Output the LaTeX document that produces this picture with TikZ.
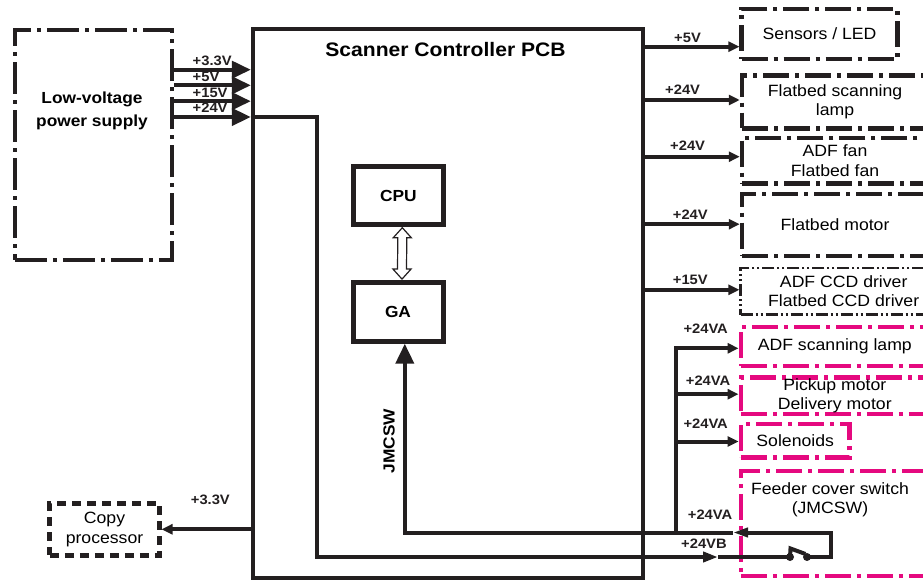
\documentclass[tikz,border=0pt]{standalone}
\usepackage{fontspec}
\setmainfont{Liberation Sans}[FakeStretch=1.08]
\usetikzlibrary{arrows.meta,calc}
\definecolor{wireblack}{HTML}{231F20}
\definecolor{optmagenta}{HTML}{E5097F}
\newcommand{\unitfont}{\fontsize{16.4}{19.5}\selectfont}
\newcommand{\headfont}{\fontsize{16.1}{23}\selectfont\bfseries}
\newcommand{\titlefont}{\fontsize{19.6}{23}\selectfont\bfseries}
\newcommand{\vfont}{\fontsize{13.7}{16}\selectfont\bfseries}
\tikzset{
  wire/.style={line width=4bp,draw=wireblack},
  feed/.style={wire,-{Triangle[length=11bp,width=10bp]}},
  supply/.style={wire,-{Triangle[length=19bp,width=17bp]}},
  sense/.style={wire,-{Triangle[length=20bp,width=18bp]}},
  busarrow/.style={draw=wireblack,line width=1.2bp,fill=white,line join=miter},
  pcbbox/.style={draw=wireblack,line width=4.3bp,minimum width=390bp,minimum height=549bp,inner sep=0pt},
  chip/.style={draw=wireblack,line width=5bp,minimum width=90bp,minimum height=58bp,font=\headfont},
  partbox/.style={draw=wireblack,line width=4.5bp,dash pattern=on 26bp off 6bp on 4bp off 6bp,
    align=center,font=\unitfont,inner sep=0pt},
  lvbox/.style={partbox,dash pattern=on 32bp off 6bp on 4bp off 6bp},
  ccdbox/.style={partbox,line width=2.6bp,dash pattern=on 12bp off 3bp on 2bp off 3bp on 2bp off 3bp},
  optbox/.style={partbox,draw=optmagenta},
  copybox/.style={partbox,dash pattern=on 9bp off 6bp},
  vlabel/.style={font=\vfont,text=wireblack,inner sep=0pt,anchor=base west}
}

\begin{document}
\begin{tikzpicture}[x=1bp,y=-1bp]
  \useasboundingbox (0,0) rectangle (923,580);
  \clip (0,0) rectangle (923,580);

  % boards and units
  \node[lvbox,minimum width=157bp,minimum height=230bp] (lvps) at (93.3,145.2) {};
  \node[font=\headfont,align=center] (lvpsname) at (92,110.5) {Low-voltage\\power supply};
  \node[pcbbox] (pcb) at (448,303.3) {};
  \node[font=\titlefont] (pcbname) at (445.5,50) {Scanner Controller PCB};
  \node[chip] (cpu) at (398.3,195.6) {CPU};
  \node[chip,minimum height=59bp] (ga) at (398,311.7) {GA};

  \node[partbox,minimum width=155.8bp,minimum height=50bp] (sensors) at (819.6,34) {Sensors / LED};
  \node[partbox,minimum width=186bp,minimum height=52.8bp] (lamp) at (835,101.9) {Flatbed scanning\\lamp};
  \node[partbox,minimum width=186bp,minimum height=45.3bp] (fans) at (835,160.7) {ADF fan\\Flatbed fan};
  \node[partbox,minimum width=186bp,minimum height=61.6bp] (fbmotor) at (835,225) {Flatbed motor};
  \node[ccdbox,minimum width=206bp,minimum height=46.7bp] (ccd) at (843.7,291.3) {ADF CCD driver\\Flatbed CCD driver};
  \node[optbox,minimum width=188bp,minimum height=38.8bp] (adflamp) at (834.8,346.4) {ADF scanning lamp};
  \node[optbox,minimum width=188bp,minimum height=36.7bp] (pickup) at (834.8,395.8) {Pickup motor\\Delivery motor};
  \node[optbox,minimum width=108.7bp,minimum height=33.3bp] (solenoids) at (795.2,440.8) {Solenoids};
  \node[optbox,minimum width=188bp,minimum height=105bp] (feeder) at (834.8,523.3) {};
  \node[font=\unitfont,align=center] (feedername) at (830,499.5) {Feeder cover switch\\(JMCSW)};
  \node[copybox,minimum width=109.5bp,minimum height=52bp] (copyproc) at (104.5,529.3) {Copy\\processor};

  % power from the low-voltage power supply
  \foreach \y/\v [count=\i] in {69.7/+3.3V,85.3/+5V,101.2/+15V,117/+24V}
    \draw[supply] (lvps.east |- 0,\y) -- (pcb.west |- 0,\y)
      node[vlabel,pos=0.217,yshift=4bp] (lv\i) {\v};

  % outputs to the loads
  \foreach \load/\y/\v/\x/\dy in {sensors/46.7/+5V/674/4,lamp/100/+24V/665/5.7,
      fans/156.7/+24V/670/6,fbmotor/224.2/+24V/672.7/4.2,ccd/289.8/+15V/672.7/5.8}{
    \draw[feed] (pcb.east |- 0,\y) -- (\load.west |- 0,\y);
    \node[vlabel,yshift=\dy bp] (\load-v) at (\x,\y) {\v};
  }
  \draw[feed] (pcb.west |- copyproc.east) -- (copyproc.east);
  \node[vlabel] (copy-v) at (190.7,504) {+3.3V};

  % switched +24V through the feeder cover switch
  \coordinate (vbturn) at (317.2,557);
  \coordinate (vbtip) at (718,557);
  \coordinate (swl) at (790,557);
  \coordinate (swr) at (807,557);
  \coordinate (loop) at (830.5,532.5);
  \coordinate (vatip) at (733,532.5);
  \coordinate (vabus) at (675.5,532.5);
  \coordinate (jmturn) at (404.8,532.5);

  \draw[wire,-{Triangle[length=15bp,width=10bp]}] (pcb.west |- 0,117) -| (vbturn) -- (vbtip);
  \draw[wire] (vbtip) -- (swl);
  \draw[wire] (swl) -- ++(0.5,-8.5) -- ++(15,5.5);
  \fill[wireblack] (swl) circle (4bp) (swr) circle (4bp);
  \draw[wire,-{Triangle[length=15bp,width=9bp]}] (swr) -| (loop) -- (vatip);
  \draw[sense] (vatip) -- (jmturn) -- (ga.south -| jmturn);
  \node[font=\headfont,rotate=90] (jmcswname) at (389,441) {JMCSW};
  \node[vlabel] (va4) at (687.7,519.3) {+24VA};
  \node[vlabel] (vb) at (681,548.3) {+24VB};

  % +24VA branch
  \draw[feed] (vabus) |- (adflamp.west |- 0,348.3);
  \draw[feed] (vabus |- 0,394.2) -- (pickup.west |- 0,394.2);
  \draw[feed] (vabus |- 0,441.5) -- (solenoids.west |- 0,441.5);
  \node[vlabel] (va1) at (683.3,333.3) {+24VA};
  \node[vlabel] (va2) at (685.7,385.7) {+24VA};
  \node[vlabel] (va3) at (683.3,428.3) {+24VA};

  % hollow data bus between CPU and GA
  \coordinate (bustop) at ([xshift=4bp,yshift=-0.6bp]cpu.south);
  \coordinate (busbot) at ([xshift=4bp,yshift=0.6bp]ga.north);
  \draw[busarrow] (bustop) -- ++(9,10) -- ++(-4.5,0) -- ($(busbot)+(4.5,-10)$) -- ++(4.5,0)
    -- (busbot) -- ++(-9,-10) -- ++(4.5,0) -- ($(bustop)+(-4.5,10)$) -- ++(-4.5,0) -- cycle;
\end{tikzpicture}
\end{document}
